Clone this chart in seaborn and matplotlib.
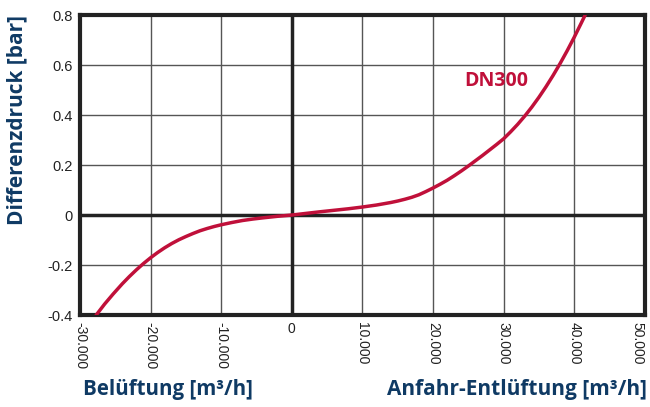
import matplotlib
matplotlib.use("Agg")
import matplotlib.pyplot as plt
import seaborn as sns
import pandas as pd

# Kennlinie DN300
volumenstrom = [-27700, -26500, -25300, -24000, -23000, -22000, -21000, -20000, -19000,
                -18000, -17000, -16000, -15000, -14000, -13000, -12000, -11000, -10000,
                -8500, -7000, -5500, -4000, -2000, 0, 2000, 4000, 6000, 8000, 10000,
                11000, 12000, 13000, 14000, 15000, 16000, 17000, 18000, 19000, 20000,
                21000, 22000, 23000, 24000, 25000, 26000, 27000, 28000, 29000, 30000,
                31000, 32000, 33000, 34000, 35000, 36000, 37000, 38000, 39000, 40000,
                41000, 41550]
druck = [-0.400, -0.356, -0.316, -0.275, -0.246, -0.219, -0.194, -0.171, -0.150,
         -0.131, -0.114, -0.099, -0.086, -0.074, -0.063, -0.054, -0.046, -0.039,
         -0.030, -0.022, -0.016, -0.011, -0.005, 0.0, 0.0065, 0.013, 0.019, 0.025, 0.032,
         0.036, 0.040, 0.045, 0.050, 0.056, 0.063, 0.071, 0.081, 0.094, 0.108,
         0.123, 0.139, 0.157, 0.176, 0.196, 0.217, 0.238, 0.260, 0.282, 0.305,
         0.333, 0.363, 0.396, 0.432, 0.471, 0.513, 0.558, 0.606, 0.657, 0.711,
         0.768, 0.800]

x_ticks = [-30000, -20000, -10000, 0, 10000, 20000, 30000, 40000, 50000]
x_labels = ["-30.000", "-20.000", "-10.000", "0", "10.000", "20.000", "30.000", "40.000", "50.000"]
y_ticks = [-0.4, -0.2, 0, 0.2, 0.4, 0.6, 0.8]
y_labels = ["-0.4", "-0.2", "0", "0.2", "0.4", "0.6", "0.8"]

df = pd.DataFrame({"Volumenstrom": volumenstrom, "Differenzdruck": druck})

sns.set_style("white")
plt.rcParams["font.family"] = ["Liberation Sans", "DejaVu Sans"]

rot = "#c0103a"
blau = "#0f3a64"
fett = ["Open Sans", "DejaVu Sans"]

fig = plt.figure(figsize=(6.5, 4.07), dpi=100)
ax = fig.add_axes([0.123, 0.226, 0.869, 0.737])

ax.set_xlim(-30000, 50000)
ax.set_ylim(-0.4, 0.8)

for xt in x_ticks:
    ax.axvline(xt, color="#555555", lw=1, zorder=1)
for yt in y_ticks:
    ax.axhline(yt, color="#555555", lw=1, zorder=1)
ax.axvline(0, color="#222222", lw=2.5, zorder=2)
ax.axhline(0, color="#222222", lw=2.5, zorder=2)

sns.lineplot(data=df, x="Volumenstrom", y="Differenzdruck", color=rot, lw=2.5, ax=ax, zorder=3)

for s in ax.spines.values():
    s.set_linewidth(3)
    s.set_color("#222222")

ax.set_xticks(x_ticks)
ax.set_xticklabels(x_labels, fontsize=10, color="#222222")
for lab, txt in zip(ax.get_xticklabels(), x_labels):
    if txt != "0":
        lab.set_rotation(270)
    lab.set_va("top")
    if txt == "50.000":
        lab.set_ha("right")
        lab.set_x(lab.get_position()[0])
ax.set_yticks(y_ticks)
ax.set_yticklabels(y_labels, fontsize=10.5, color="#222222")
ax.tick_params(length=0, pad=5)
ax.set_xlabel("")
ax.set_ylabel("")

ax.text(28900, 0.536, "DN300", color=rot, fontsize=14, fontweight="bold",
        family=fett, ha="center", va="center")

fig.text(0.026, 0.963, "Differenzdruck [bar]", rotation=90, ha="center", va="top",
         color=blau, fontsize=15, fontweight="bold", family=fett)
fig.text(0.128, 0.042, "Belüftung [m³/h]", ha="left", va="center",
         color=blau, fontsize=14.8, fontweight="bold", family=fett)
fig.text(0.996, 0.042, "Anfahr-Entlüftung [m³/h]", ha="right", va="center",
         color=blau, fontsize=15, fontweight="bold", family=fett)

fig.savefig("out.png", dpi=100)
